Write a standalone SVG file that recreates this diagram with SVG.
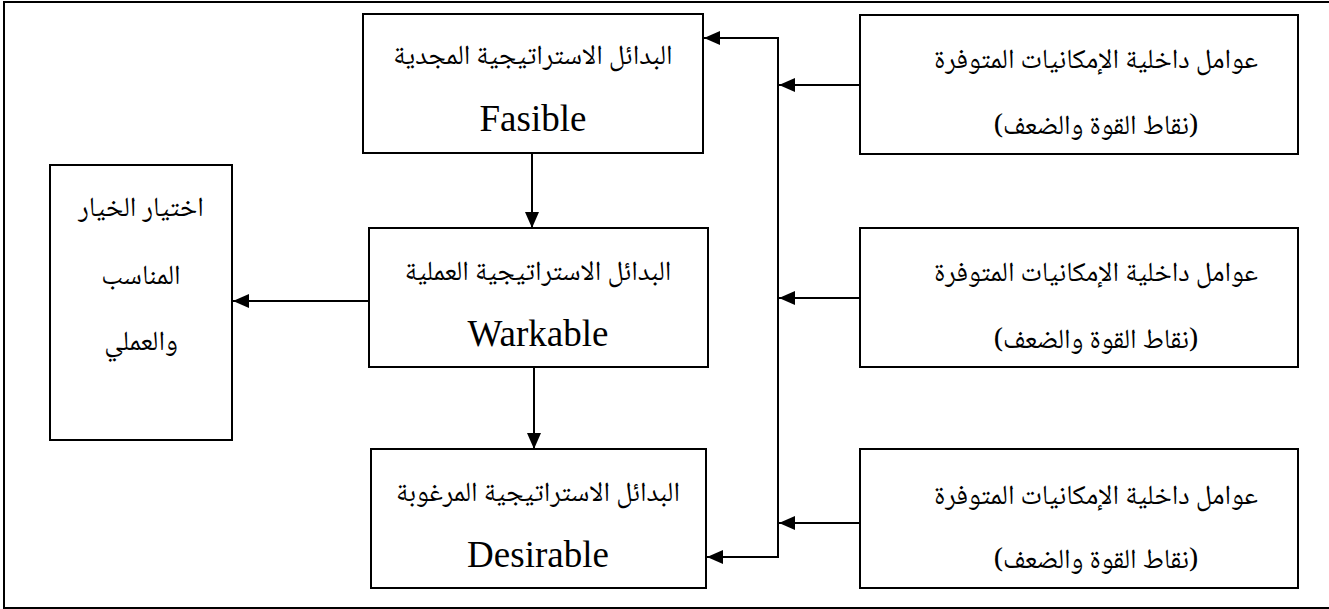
<svg xmlns="http://www.w3.org/2000/svg" width="1329" height="609" viewBox="0 0 1329 609">
  <style>
    .box { fill: #ffffff; stroke: #000000; stroke-width: 2; }
    .frame { fill: none; stroke: #000000; stroke-width: 2; }
    .link { fill: none; stroke: #000000; stroke-width: 2; }
    .ar { font-family: "Noto Naskh Arabic", "Noto Sans Arabic", "DejaVu Sans", serif; font-size: 27.5px; fill: #000000; text-anchor: middle; direction: rtl; }
    .en { font-family: "Liberation Serif", "Times New Roman", serif; font-size: 37px; fill: #000000; text-anchor: middle; }
  </style>
  <defs>
    <marker id="head" markerUnits="userSpaceOnUse" markerWidth="17" markerHeight="17" viewBox="0 0 17 17" refX="16" refY="8.5" orient="auto">
      <path d="M0,1.5 L16,8.5 L0,15.5 Z" fill="#000000"/>
    </marker>
  </defs>

  <rect width="1329" height="609" fill="#ffffff"/>
  <!-- outer frame, open on the right edge -->
  <path class="frame" d="M1335,2 H4 V608 H1335"/>

  <g id="connectors">
    <!-- shared vertical bus -->
    <line class="link" x1="778" y1="37" x2="778" y2="558"/>
    <path class="link" d="M778,38 H704" marker-end="url(#head)"/>
    <path class="link" d="M778,557 H707" marker-end="url(#head)"/>
    <!-- internal factor boxes to bus -->
    <path class="link" d="M860,85 H779" marker-end="url(#head)"/>
    <path class="link" d="M860,298 H779" marker-end="url(#head)"/>
    <path class="link" d="M860,523 H779" marker-end="url(#head)"/>
    <!-- chain of alternatives -->
    <path class="link" d="M532,153 V228" marker-end="url(#head)"/>
    <path class="link" d="M534,367 V449" marker-end="url(#head)"/>
    <path class="link" d="M369,301 H233" marker-end="url(#head)"/>
  </g>

  <g id="feasible">
    <rect class="box" x="363" y="14" width="340" height="139"/>
    <text class="ar" x="533" y="64">البدائل الاستراتيجية المجدية</text>
    <text class="en" x="533" y="131">Fasible</text>
  </g>

  <g id="workable">
    <rect class="box" x="369" y="228" width="339" height="139"/>
    <text class="ar" x="538" y="280">البدائل الاستراتيجية العملية</text>
    <text class="en" x="538" y="346">Warkable</text>
  </g>

  <g id="desirable">
    <rect class="box" x="371" y="449" width="335" height="139"/>
    <text class="ar" x="538" y="501">البدائل الاستراتيجية المرغوبة</text>
    <text class="en" x="538" y="567">Desirable</text>
  </g>

  <g id="choice">
    <rect class="box" x="50" y="165" width="182" height="275"/>
    <text class="ar" x="141" y="216">اختيار الخيار</text>
    <text class="ar" x="141" y="284">المناسب</text>
    <text class="ar" x="141" y="350">والعملي</text>
  </g>

  <g id="internal-1">
    <rect class="box" x="860" y="15" width="438" height="139"/>
    <text class="ar" x="1096" y="68">عوامل داخلية الإمكانيات المتوفرة</text>
    <text class="ar" x="1096" y="134">(نقاط القوة والضعف)</text>
  </g>

  <g id="internal-2">
    <rect class="box" x="860" y="228" width="438" height="139"/>
    <text class="ar" x="1096" y="281">عوامل داخلية الإمكانيات المتوفرة</text>
    <text class="ar" x="1096" y="348">(نقاط القوة والضعف)</text>
  </g>

  <g id="internal-3">
    <rect class="box" x="860" y="449" width="438" height="139"/>
    <text class="ar" x="1096" y="504">عوامل داخلية الإمكانيات المتوفرة</text>
    <text class="ar" x="1096" y="568">(نقاط القوة والضعف)</text>
  </g>
</svg>
